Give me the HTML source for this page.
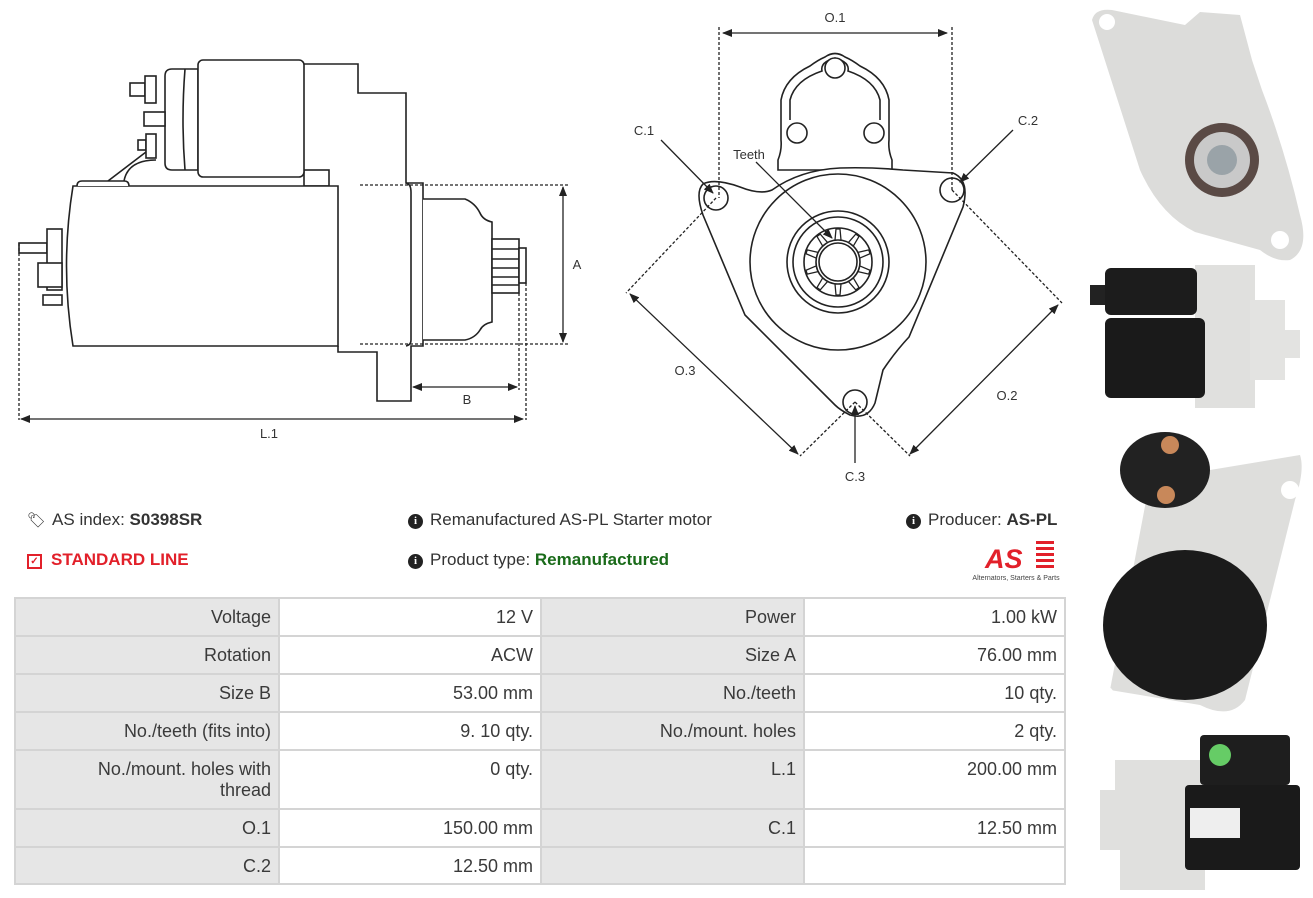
<!DOCTYPE html>
<html><head><meta charset="utf-8"><style>
body{margin:0;width:1313px;height:898px;background:#fff;position:relative;overflow:hidden;font-family:"Liberation Sans",sans-serif;color:#333}
.c{position:absolute;box-sizing:border-box;border:2px solid #d4d4d4;font-size:18px;text-align:right;padding:8px 7px 0 4px;line-height:21px;color:#3a3a3a}
.g{background:#e6e6e6}.w{background:#fff}
.t{position:absolute;font-size:17px;white-space:nowrap;color:#333}
.i{display:inline-block;width:15px;height:15px;border-radius:50%;background:#222;color:#fff;font-size:11px;line-height:15px;text-align:center;font-weight:bold;font-family:"Liberation Serif",serif;vertical-align:1px;margin-right:7px}
</style></head><body>
<svg width="1313" height="898" style="position:absolute;left:0;top:0" xmlns="http://www.w3.org/2000/svg">
<defs><marker id="a" markerWidth="10" markerHeight="8" refX="9" refY="4" orient="auto-start-reverse" markerUnits="userSpaceOnUse"><path d="M0,0 L10,4 L0,8z" fill="#222"/></marker></defs>
<g fill="#fff" stroke="#222" stroke-width="1.6">
<path d="M304,64 H358 V93 H406 V183 H423 V346 H411 V401 H377 V352 H338 V346"/>
<path d="M406,183 Q411,184 411,192 V340 Q411,345 406,346"/>
<path d="M423,199 H465 Q475,203 480,213 Q483,220 492,222 V322 Q483,324 480,330 Q475,338 465,340 H423"/>
<rect x="492" y="239" width="27" height="54"/>
<line x1="492" y1="249" x2="519" y2="249"/><line x1="492" y1="259" x2="519" y2="259"/><line x1="492" y1="268" x2="519" y2="268"/><line x1="492" y1="277" x2="519" y2="277"/><line x1="492" y1="285" x2="519" y2="285"/>
<rect x="519" y="248" width="7" height="35"/>
<rect x="304" y="170" width="25" height="16"/>
<path d="M73,186 H338 V346 H73 Q60,266 73,186Z"/>
<path d="M77,186 Q77,181 82,181 H124 Q129,181 129,186"/>
<path d="M165,76 Q165,69 172,69 H198 V170 H172 Q165,170 165,163Z"/>
<path d="M185,69 Q181,120 185,170"/>
<rect x="198" y="60" width="106" height="117" rx="5"/>
<rect x="130" y="83" width="15" height="13"/><rect x="145" y="76" width="11" height="27"/>
<rect x="144" y="112" width="21" height="14"/>
<rect x="138" y="140" width="8" height="10"/><rect x="146" y="134" width="10" height="24"/>
<path d="M146,152 L108,181 M156,160 Q128,160 124,181" fill="none"/>
<rect x="19" y="243" width="28" height="10"/><rect x="47" y="229" width="15" height="61"/>
<rect x="38" y="263" width="24" height="24"/><rect x="43" y="295" width="19" height="10"/>
<path d="M778,170 V160 Q782,150 781,140 V100 Q785,78 810,66 Q818,60 825,57 Q835,50 845,57 Q852,60 860,66 Q885,78 889,100 V140 Q888,150 892,160 V170Z"/>
<path d="M790,120 V100 Q795,80 822,71 Q820,62 835,58 Q850,62 848,71 Q875,80 880,100 V120" fill="none"/>
<circle cx="835" cy="68" r="10"/><circle cx="797" cy="133" r="10"/><circle cx="874" cy="133" r="10"/>
<path d="M703,184 Q715,178 740,187 Q760,195 772,190 Q800,170 840,168 Q870,167 903,170 L953,173 Q970,180 963,207 L909,337 Q895,352 883,370 L875,403 Q868,420 850,415 Q840,410 835,405 L745,315 L703,215 Q695,192 703,184Z"/>
<circle cx="716" cy="198" r="12"/><circle cx="952" cy="190" r="12"/><circle cx="855" cy="402" r="12"/>
<circle cx="838" cy="262" r="88"/><circle cx="838" cy="262" r="51"/><circle cx="838" cy="262" r="45"/><circle cx="838" cy="262" r="34"/><circle cx="838" cy="262" r="22"/><circle cx="838" cy="262" r="19"/>
</g>
<g stroke="#222" stroke-width="1.3" fill="none">
<g transform="translate(838,262)">
<path d="M-3,-22 L-2,-33 H2 L3,-22"/><path d="M-3,-22 L-2,-33 H2 L3,-22" transform="rotate(36)"/><path d="M-3,-22 L-2,-33 H2 L3,-22" transform="rotate(72)"/><path d="M-3,-22 L-2,-33 H2 L3,-22" transform="rotate(108)"/><path d="M-3,-22 L-2,-33 H2 L3,-22" transform="rotate(144)"/><path d="M-3,-22 L-2,-33 H2 L3,-22" transform="rotate(180)"/><path d="M-3,-22 L-2,-33 H2 L3,-22" transform="rotate(216)"/><path d="M-3,-22 L-2,-33 H2 L3,-22" transform="rotate(252)"/><path d="M-3,-22 L-2,-33 H2 L3,-22" transform="rotate(288)"/><path d="M-3,-22 L-2,-33 H2 L3,-22" transform="rotate(324)"/>
</g>
<g stroke-dasharray="3,2">
<line x1="360" y1="185" x2="569" y2="185"/><line x1="360" y1="344" x2="569" y2="344"/>
<line x1="19" y1="243" x2="19" y2="420"/><line x1="526" y1="283" x2="526" y2="420"/><line x1="519" y1="293" x2="519" y2="390"/>
<line x1="719" y1="27" x2="719" y2="198"/><line x1="952" y1="27" x2="952" y2="192"/>
<line x1="716" y1="198" x2="626" y2="293"/><line x1="855" y1="402" x2="800" y2="456"/>
<line x1="952" y1="190" x2="1062" y2="303"/><line x1="855" y1="402" x2="910" y2="456"/>
</g>
<line x1="563" y1="187" x2="563" y2="342" marker-start="url(#a)" marker-end="url(#a)"/>
<line x1="413" y1="387" x2="517" y2="387" marker-start="url(#a)" marker-end="url(#a)"/>
<line x1="21" y1="419" x2="523" y2="419" marker-start="url(#a)" marker-end="url(#a)"/>
<line x1="723" y1="33" x2="947" y2="33" marker-start="url(#a)" marker-end="url(#a)"/>
<line x1="630" y1="294" x2="798" y2="454" marker-start="url(#a)" marker-end="url(#a)"/>
<line x1="1058" y1="305" x2="910" y2="454" marker-start="url(#a)" marker-end="url(#a)"/>
<line x1="661" y1="140" x2="713" y2="193" marker-end="url(#a)"/>
<line x1="1013" y1="130" x2="960" y2="182" marker-end="url(#a)"/>
<line x1="756" y1="162" x2="832" y2="238" marker-end="url(#a)"/>
<line x1="855" y1="463" x2="855" y2="406" marker-end="url(#a)"/>
</g>
<g font-family="Liberation Sans,sans-serif" font-size="13" fill="#333" text-anchor="middle">
<text x="577" y="269">A</text><text x="467" y="404">B</text><text x="269" y="438">L.1</text>
<text x="835" y="22">O.1</text><text x="644" y="135">C.1</text><text x="1028" y="125">C.2</text><text x="749" y="159">Teeth</text>
<text x="685" y="375">O.3</text><text x="1007" y="400">O.2</text><text x="855" y="481">C.3</text>
</g>
<g>
<path d="M1092,20 Q1095,8 1112,10 L1185,25 L1200,12 L1240,15 L1252,60 L1262,90 Q1285,150 1300,215 Q1310,250 1290,260 Q1275,262 1260,250 L1195,232 Q1160,215 1140,170 Z" fill="#dcdcda"/>
<circle cx="1222" cy="160" r="37" fill="#5a4a45"/><circle cx="1222" cy="160" r="28" fill="#c9c9c9"/><circle cx="1222" cy="160" r="15" fill="#9aa3a8"/>
<circle cx="1107" cy="22" r="8" fill="#fff"/><circle cx="1280" cy="240" r="9" fill="#fff"/>
<rect x="1195" y="265" width="60" height="143" fill="#e0e0de"/><path d="M1250,300 H1285 V330 H1300 V358 H1285 V380 H1250Z" fill="#e3e3e1"/>
<rect x="1090" y="285" width="15" height="20" fill="#222"/><rect x="1105" y="268" width="92" height="47" rx="6" fill="#1c1c1c"/>
<rect x="1105" y="318" width="100" height="80" rx="6" fill="#1a1a1a"/>
<path d="M1150,480 L1300,455 Q1305,470 1295,500 L1245,700 Q1230,720 1200,705 L1110,690 Z" fill="#dededc"/>
<ellipse cx="1165" cy="470" rx="45" ry="38" fill="#222"/><ellipse cx="1185" cy="625" rx="82" ry="75" fill="#1b1b1b"/>
<circle cx="1170" cy="445" r="9" fill="#c8885a"/><circle cx="1166" cy="495" r="9" fill="#c8885a"/>
<circle cx="1290" cy="490" r="9" fill="#fff"/><circle cx="1105" cy="695" r="9" fill="#fff"/>
<path d="M1115,760 H1205 V890 H1120 V850 H1100 V790 H1115Z" fill="#e0e0de"/>
<rect x="1185" y="785" width="115" height="85" rx="4" fill="#1a1a1a"/><rect x="1200" y="735" width="90" height="50" rx="4" fill="#1e1e1e"/>
<rect x="1190" y="808" width="50" height="30" fill="#eee"/><circle cx="1220" cy="755" r="11" fill="#6c6"/>
</g>
<g><text x="985" y="568" font-family="Liberation Sans,sans-serif" font-weight="bold" font-style="italic" font-size="27" fill="#e2202a">AS</text>
<rect x="1036" y="541" width="18" height="3" fill="#e2202a"/><rect x="1036" y="547" width="18" height="3" fill="#e2202a"/><rect x="1036" y="553" width="18" height="3" fill="#e2202a"/><rect x="1036" y="559" width="18" height="3" fill="#e2202a"/><rect x="1036" y="565" width="18" height="3" fill="#e2202a"/>
<text x="1016" y="580" text-anchor="middle" font-family="Liberation Sans,sans-serif" font-size="7" fill="#444">Alternators, Starters &amp; Parts</text></g>
</svg>
<div class="t" style="left:27px;top:510px"><span style="font-size:15px;margin-right:6px">&#x1F3F7;</span>AS index: <b>S0398SR</b></div>
<div class="t" style="left:27px;top:550px;color:#e2202a;font-weight:bold"><span style="display:inline-block;width:11px;height:11px;border:2px solid #e2202a;font-size:10px;line-height:11px;text-align:center;margin-right:9px;vertical-align:1px">✓</span>STANDARD LINE</div>
<div class="t" style="left:408px;top:510px"><span class="i">i</span>Remanufactured AS-PL Starter motor</div>
<div class="t" style="left:408px;top:550px"><span class="i">i</span>Product type: <b style="color:#1a6b1a">Remanufactured</b></div>
<div class="t" style="left:906px;top:510px"><span class="i">i</span>Producer: <b>AS-PL</b></div>

<div class="c g" style="left:14px;top:597px;width:266px;height:40px">Voltage</div><div class="c w" style="left:278px;top:597px;width:264px;height:40px">12 V</div><div class="c g" style="left:540px;top:597px;width:265px;height:40px">Power</div><div class="c w" style="left:803px;top:597px;width:263px;height:40px">1.00 kW</div>
<div class="c g" style="left:14px;top:635px;width:266px;height:40px">Rotation</div><div class="c w" style="left:278px;top:635px;width:264px;height:40px">ACW</div><div class="c g" style="left:540px;top:635px;width:265px;height:40px">Size A</div><div class="c w" style="left:803px;top:635px;width:263px;height:40px">76.00 mm</div>
<div class="c g" style="left:14px;top:673px;width:266px;height:40px">Size B</div><div class="c w" style="left:278px;top:673px;width:264px;height:40px">53.00 mm</div><div class="c g" style="left:540px;top:673px;width:265px;height:40px">No./teeth</div><div class="c w" style="left:803px;top:673px;width:263px;height:40px">10 qty.</div>
<div class="c g" style="left:14px;top:711px;width:266px;height:40px">No./teeth (fits into)</div><div class="c w" style="left:278px;top:711px;width:264px;height:40px">9. 10 qty.</div><div class="c g" style="left:540px;top:711px;width:265px;height:40px">No./mount. holes</div><div class="c w" style="left:803px;top:711px;width:263px;height:40px">2 qty.</div>
<div class="c g" style="left:14px;top:749px;width:266px;height:61px">No./mount. holes with<br>thread</div><div class="c w" style="left:278px;top:749px;width:264px;height:61px">0 qty.</div><div class="c g" style="left:540px;top:749px;width:265px;height:61px">L.1</div><div class="c w" style="left:803px;top:749px;width:263px;height:61px">200.00 mm</div>
<div class="c g" style="left:14px;top:808px;width:266px;height:40px">O.1</div><div class="c w" style="left:278px;top:808px;width:264px;height:40px">150.00 mm</div><div class="c g" style="left:540px;top:808px;width:265px;height:40px">C.1</div><div class="c w" style="left:803px;top:808px;width:263px;height:40px">12.50 mm</div>
<div class="c g" style="left:14px;top:846px;width:266px;height:39px">C.2</div><div class="c w" style="left:278px;top:846px;width:264px;height:39px">12.50 mm</div><div class="c g" style="left:540px;top:846px;width:265px;height:39px"></div><div class="c w" style="left:803px;top:846px;width:263px;height:39px"></div>
</body></html>
